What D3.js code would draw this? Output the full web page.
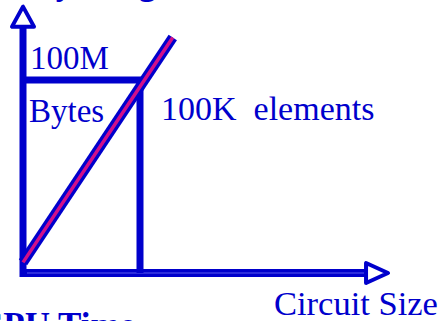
<html>

<head>
    <script src="https://d3js.org/d3.v7.min.js"></script>
    <style>
        body { margin: 0; background: white; }
        text { font-family: "Liberation Serif", "Times New Roman", serif; fill: #0000cc; white-space: pre; }
    </style>
</head>

<body>
    <svg id="chart" height="321" width="443"></svg>
    <script>

        // circuit size in K elements, memory in M bytes
        const markX = 100
        const markY = 100
        const xAxisEnd = 312
        const yAxisEnd = 138
        const growth = [[0, 5.5], [128, 122]]
        const labels = ["100M", "Bytes", "100K  elements", "Circuit Size"]
        const titles = ["Memory Usage", "CPU Time"]

        const svg = d3.select("#chart")
        const blue = "#0000cc"
        const pink = "#d0108a"

        const x = d3.scaleLinear().domain([0, markX]).range([23, 140])
        const y = d3.scaleLinear().domain([0, markY]).range([273, 80])

        // titles cut off at top and bottom
        svg.append("text").attr("x", -55).attr("y", -6)
            .style("font-size", "35px").style("font-weight", "bold")
            .text(titles[0])
        svg.append("text").attr("x", -22).attr("y", 337)
            .style("font-size", "35px").style("font-weight", "bold")
            .text(titles[1])

        // y axis
        svg.append("line")
            .attr("x1", x(0)).attr("y1", y(0) + 4)
            .attr("x2", x(0)).attr("y2", y(yAxisEnd) + 20)
            .style("stroke", blue).style("stroke-width", 7)
        svg.append("path")
            .attr("d", d3.line()([[x(0), y(yAxisEnd)], [x(0) - 11, y(yAxisEnd) + 20], [x(0) + 11, y(yAxisEnd) + 20]]) + "Z")
            .style("fill", "white").style("stroke", blue).style("stroke-width", 4)
            .style("stroke-linejoin", "round")

        // x axis
        svg.append("line")
            .attr("x1", x(0) - 3).attr("y1", y(0))
            .attr("x2", x(xAxisEnd) - 22).attr("y2", y(0))
            .style("stroke", blue).style("stroke-width", 8)
        svg.append("line")
            .attr("x1", x(0) + 4).attr("y1", y(0))
            .attr("x2", x(xAxisEnd) - 22).attr("y2", y(0))
            .style("stroke", "#5a5aee").style("stroke-width", 1)
        svg.append("path")
            .attr("d", d3.line()([[x(xAxisEnd), y(0)], [x(xAxisEnd) - 22, y(0) - 10], [x(xAxisEnd) - 22, y(0) + 10]]) + "Z")
            .style("fill", "white").style("stroke", blue).style("stroke-width", 4)
            .style("stroke-linejoin", "round")

        // 100M / 100K guide lines
        svg.append("path")
            .attr("d", d3.line()([[x(0), y(markY)], [x(markX), y(markY)], [x(markX), y(0)]]))
            .style("fill", "none").style("stroke", blue).style("stroke-width", 7)

        // growth line
        const line = d3.line().x(d => x(d[0])).y(d => y(d[1]))
        svg.append("path").datum(growth)
            .attr("d", line)
            .style("stroke", blue).style("stroke-width", 10).style("fill", "none")
        svg.append("path").datum(growth)
            .attr("d", line)
            .style("stroke", pink).style("stroke-width", 3.5).style("fill", "none")

        // labels
        svg.append("text").attr("x", 30).attr("y", 69).style("font-size", "33px").text(labels[0])
        svg.append("text").attr("x", 29).attr("y", 122).style("font-size", "33px").text(labels[1])
        svg.append("text").attr("x", 161).attr("y", 120).style("font-size", "34px").text(labels[2])
        svg.append("text").attr("x", 274).attr("y", 315).style("font-size", "34.5px").text(labels[3])

    </script>
</body>

</html>
